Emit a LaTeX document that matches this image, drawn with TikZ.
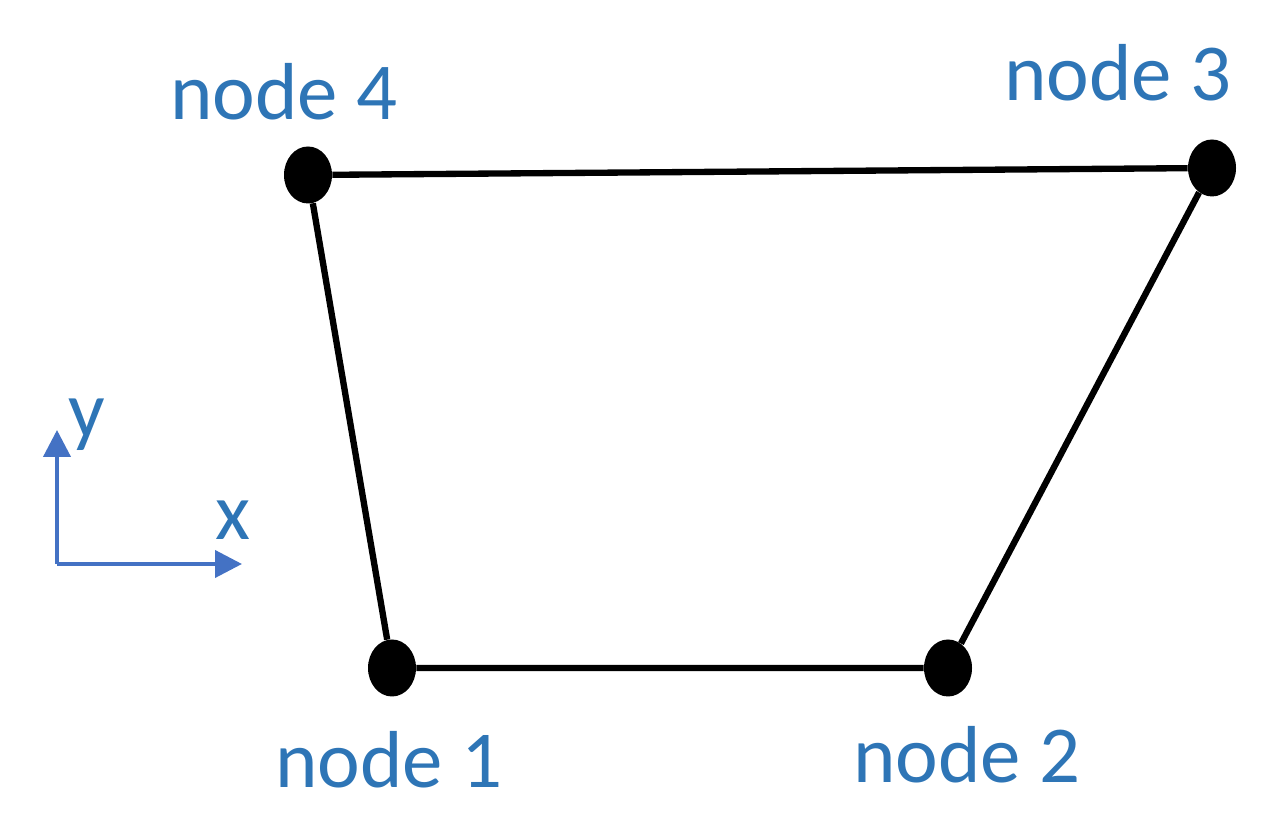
\documentclass[tikz,border=0pt]{standalone}
\usepackage{fontspec}
\setmainfont{Carlito}
\usetikzlibrary{positioning, shapes.geometric, arrows.meta}
\definecolor{lblblue}{HTML}{2E75B6}
\definecolor{axblue}{HTML}{4472C4}

\begin{document}
\begin{tikzpicture}[
	dot/.style={ellipse, fill=black, inner sep=0pt, minimum width=0.96cm, minimum height=1.14cm},
	lbl/.style={text=lblblue, font=\fontsize{46}{56}\selectfont, inner sep=0pt, anchor=base west},
	edge/.style={line width=3.6pt, black},
	axis/.style={-{Triangle[length=0.54cm, width=0.54cm]}, line width=2.3pt, axblue}
	]
	\useasboundingbox (0,0) rectangle (25.52,16.64);
	
	% Nodes
	\node[dot] (n1) at (7.84,3.28) {};
	\node[dot] (n2) at (18.96,3.28) {};
	\node[dot] (n3) at (24.24,13.28) {};
	\node[dot] (n4) at (6.16,13.14) {};
	
	% Labels
	\node[lbl] (l1) at (5.50,0.88) {node 1};
	\node[lbl] (l2) at (17.06,0.98) {node 2};
	\node[lbl] (l3) at (20.08,14.62) {node 3};
	\node[lbl] (l4) at (3.40,14.24) {node 4};
	
	% Edges
	\draw[edge] (n1) -- (n2) -- (n3) -- (n4) -- (n1);
	
	% Axes
	\coordinate (o) at (1.14,5.36);
	\coordinate (ytip) at (1.14,8.04);
	\coordinate (xtip) at (4.84,5.36);
	\draw[axis] (o) -- (ytip);
	\draw[axis] (o) -- (xtip);
	\node[lbl] (ylbl) at (1.36,7.88) {y};
	\node[lbl] (xlbl) at (4.30,5.84) {x};
	
\end{tikzpicture}
\end{document}
